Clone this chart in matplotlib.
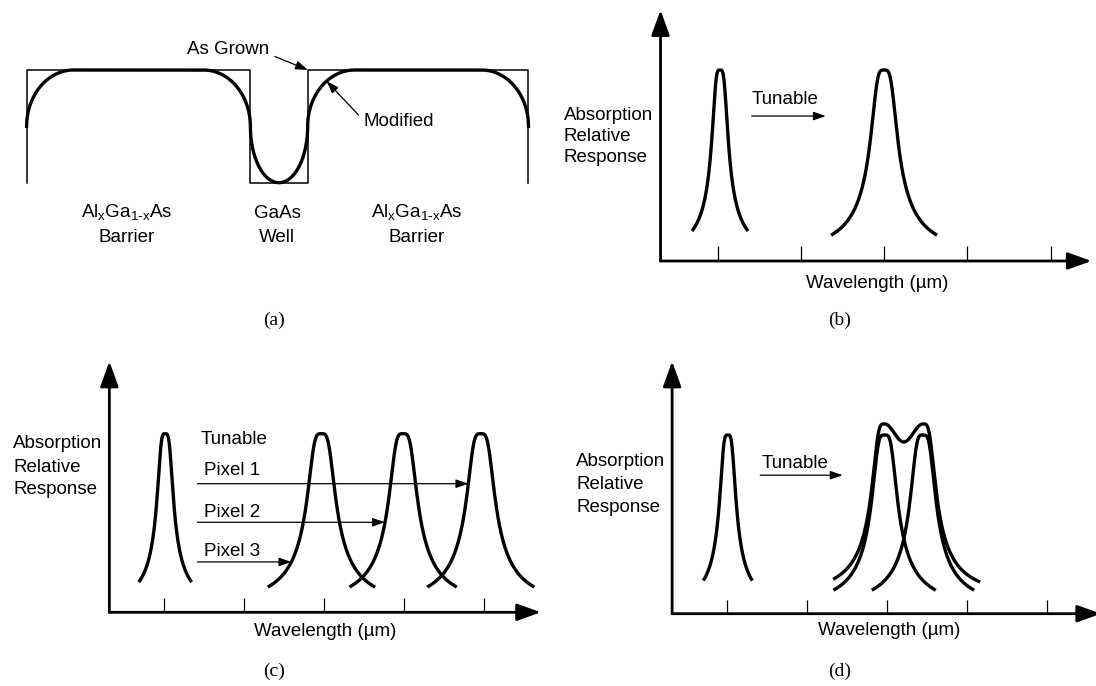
import numpy as np
import matplotlib
matplotlib.use('Agg')
import matplotlib.pyplot as plt

plt.rcParams['font.family'] = 'Liberation Sans'

W, H = 1096, 686

# ---- panel (a): quantum well profile ----
alga = r'Al$_\mathregular{x}$Ga$_\mathregular{1\text{-}x}$As'
layer_names = [(alga, 'Barrier'), ('GaAs', 'Well'), (alga, 'Barrier')]
layer_thick = [42.0, 10.75, 41.45]
layer_type = ['barrier', 'well', 'barrier']
grading_len = 8.8

# ---- panels (b)-(d): absorption peaks (x in tick units, y relative) ----
tick_pos = [1, 2, 3, 4, 5]

b_centers = [1.03, 3.0]
b_widths = [0.072, 0.12]
b_spans = [0.336, 0.636]

c_centers = [1.02, 2.97, 3.99, 4.96]
c_widths = [0.075, 0.131, 0.131, 0.131]
c_spans = [0.33, 0.67, 0.67, 0.67]
pixel_labels = ['Pixel 1', 'Pixel 2', 'Pixel 3']
pixel_levels = [0.72, 0.504, 0.282]
pixel_target = [3, 2, 1]

d_centers = [1.01, 2.97, 3.45]
d_widths = [0.075, 0.118, 0.118]
d_spans = [0.306, 0.64, 0.64]
# envelope of the two close peaks
env_offset = 0.062
env_dip = 0.961
env_range = [2.345, 4.145]

ylabel = ['Absorption', 'Relative', 'Response']
xlabel = 'Wavelength (µm)'


def peak(x, c, g):
    return (1 + ((x - c) / g) ** 4) ** (-0.3)


def left_cross(c, g, level):
    u = (level ** (-1 / 0.3) - 1) ** 0.25
    return c - g * u


def envelope(x):
    cA, cB = d_centers[1], d_centers[2]
    top = 1 + env_offset
    s = np.sin(np.pi * np.clip((x - cA) / (cB - cA), 0, 1)) ** 2
    mid = top - (top - env_dip) * s
    left = peak(x, cA, d_widths[1]) + env_offset
    right = peak(x, cB, d_widths[2]) + env_offset
    return np.where(x < cA, left, np.where(x > cB, right, mid))


fig = plt.figure(figsize=(W / 100, H / 100), dpi=100)


def add_panel(box, origin_px, scale, origin_data=(0, 0)):
    L, T, R, B = box
    ax = fig.add_axes([L / W, 1 - B / H, (R - L) / W, (B - T) / H])
    ox, oy = origin_px
    sx, sy = scale
    ax.set_xlim(origin_data[0] + (L - ox) / sx, origin_data[0] + (R - ox) / sx)
    ax.set_ylim(origin_data[1] + (oy - B) / sy, origin_data[1] + (oy - T) / sy)
    ax.axis('off')
    return ax


def ftext(x, y, s, **kw):
    kw.setdefault('fontsize', 13.5)
    fig.text(x / W, 1 - y / H, s, **kw)


def arrow(ax, tip, tail, lw=0.9, hl=7.5, hw=2.6):
    ax.annotate('', xy=tip, xytext=tail,
                arrowprops=dict(arrowstyle=f'-|>,head_length={hl},head_width={hw}',
                                lw=lw, color='k', shrinkA=0, shrinkB=0, mutation_scale=1),
                annotation_clip=False)


def draw_axes(ax, x0, x_end, y_top, tick_len):
    arrow(ax, (x_end, 0), (x0, 0), lw=2.0, hl=14.5, hw=5.2)
    arrow(ax, (x0, y_top), (x0, 0), lw=2.0, hl=15.5, hw=5.6)
    ax.vlines(tick_pos, 0, tick_len, color='k', lw=0.9)


def draw_peaks(ax, centers, widths, spans):
    for c, g, s in zip(centers, widths, spans):
        x = np.linspace(c - s, c + s, 300)
        ax.plot(x, peak(x, c, g), color='k', lw=2.4, clip_on=False,
                solid_capstyle='butt')


# (a)
ax_a = add_panel((0, 0, 548, 343), (26.6, 182.7), (5.328, 112.7))
edges = np.concatenate([[0], np.cumsum(layer_thick)])
gx, gy = [edges[0]], [0]
for n, t in enumerate(layer_type):
    lvl = 1 if t == 'barrier' else 0
    gx += [edges[n], edges[n + 1]]
    gy += [lvl, lvl]
gx.append(edges[-1]); gy.append(0)
ax_a.plot(gx, gy, color='k', lw=1.1, clip_on=False)


def modified(x):
    v = np.zeros_like(x)
    for n, t in enumerate(layer_type):
        a, b = edges[n], edges[n + 1]
        m = (x >= a) & (x <= b)
        if t == 'barrier':
            d = np.minimum(x[m] - a, b - x[m])
            r = np.clip((grading_len - d) / grading_len, 0, 1)
            v[m] = 0.5 + 0.5 * np.sqrt(1 - r ** 2)
        else:
            u = np.abs(x[m] - (a + b) / 2) / ((b - a) / 2)
            v[m] = 0.5 - 0.5 * np.sqrt(np.clip(1 - u ** 2, 0, 1))
    return v


xm = np.linspace(edges[0], edges[-1], 2000)
ax_a.plot(xm, modified(xm), color='k', lw=2.4, clip_on=False)

arrow(ax_a, (edges[2] + 0.05, 1.0), (46.6, 1.12))
xmod = 56.3
arrow(ax_a, (xmod, float(modified(np.array([xmod]))[0])), (62.3, 0.60))
ftext(269, 50, 'As Grown', ha='right', va='center')
ftext(363.5, 121, 'Modified', ha='left', va='center')
for xc, (l1, l2) in zip([126.5, 277.2, 416.6], layer_names):
    ftext(xc, 213.3, l1, ha='center', va='center')
    ftext(xc, 238, l2, ha='center', va='center')

# (b)
ax_b = add_panel((548, 0, 1096, 343), (717.5, 261), (83.3, 191), (1, 0))
draw_axes(ax_b, 0.316, 5.49, 1.314, 0.0785)
draw_peaks(ax_b, b_centers, b_widths, b_spans)
arrow(ax_b, (2.30, 0.759), (1.41, 0.759))
ftext(751.8, 99, 'Tunable', ha='left', va='center')

# (c)
ax_c = add_panel((0, 343, 548, 686), (163.6, 612.3), (80.1, 178.6), (1, 0))
draw_axes(ax_c, 0.323, 5.71, 1.405, 0.078)
draw_peaks(ax_c, c_centers, c_widths, c_spans)
ftext(200.3, 439.7, 'Tunable', ha='left', va='center')
for lab, lvl, tg, ty in zip(pixel_labels, pixel_levels, pixel_target, [470.7, 512.3, 551.3]):
    tip_x = left_cross(c_centers[tg], c_widths[tg], lvl)
    arrow(ax_c, (tip_x, lvl), (1.423, lvl))
    ftext(203.8, ty, lab, ha='left', va='center')

# (d)
ax_d = add_panel((548, 343, 1096, 686), (727, 613.7), (80, 178.7), (1, 0))
draw_axes(ax_d, 0.314, 5.675, 1.412, 0.078)
draw_peaks(ax_d, d_centers, d_widths, d_spans)
xe = np.linspace(env_range[0], env_range[1], 600)
ax_d.plot(xe, envelope(xe), color='k', lw=2.4, clip_on=False)
arrow(ax_d, (2.446, 0.775), (1.415, 0.775))
ftext(761.9, 463, 'Tunable', ha='left', va='center')

# shared labels
for (lx, lys), (wx, wy), (px_, py_), tag in zip(
        [(563.7, (115, 136.5, 157)), (13.3, (444, 467, 490)), (576, (461.3, 484.7, 508))],
        [(877.6, 283.3), (325, 631.3), (888.8, 630.3)],
        [(839.8, 320), (274.4, 671), (839.8, 671)],
        ['(b)', '(c)', '(d)']):
    for s, ly in zip(ylabel, lys):
        ftext(lx, ly, s, ha='left', va='center')
    ftext(wx, wy, xlabel, ha='center', va='center')
    ftext(px_, py_, tag, ha='center', va='center', family='Liberation Serif', fontsize=14)
ftext(274.4, 320, '(a)', ha='center', va='center', family='Liberation Serif', fontsize=14)

fig.savefig('out.png', dpi=100)
